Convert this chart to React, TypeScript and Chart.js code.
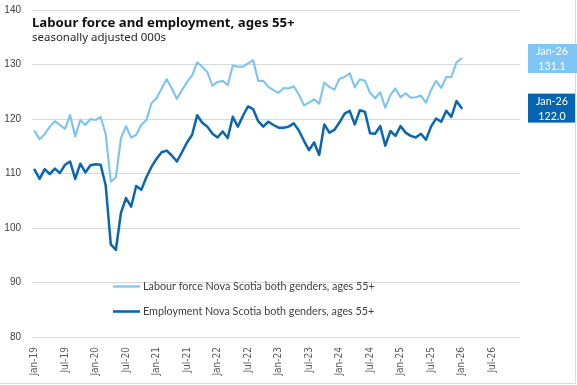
import React, { useEffect, useRef } from "react";
import { Chart, registerables } from "chart.js";

Chart.register(...registerables);

const MONTHS = ["Jan", "Feb", "Mar", "Apr", "May", "Jun", "Jul", "Aug", "Sep", "Oct", "Nov", "Dec"];
const YEARS = ["19", "20", "21", "22", "23", "24", "25", "26"];
const categories = YEARS.flatMap((y) => MONTHS.map((m) => `${m}-${y}`));

const TITLE = "Labour force and employment, ages 55+";
const SUBTITLE = "seasonally adjusted 000s";
const SERIES_NAMES = [
  "Labour force Nova Scotia both genders, ages 55+",
  "Employment Nova Scotia both genders, ages 55+",
];
const END_LABEL = "Jan-26";

const labourForce = [
  117.8, 116.3, 117.2, 118.6, 119.6, 118.9, 118.2, 120.7, 116.8, 119.8, 118.9, 120.0,
  119.8, 120.4, 117.2, 108.5, 109.3, 116.5, 118.7, 116.6, 117.1, 118.9, 119.8, 122.9,
  123.8, 125.6, 127.3, 125.6, 123.7, 125.3, 126.8, 128.0, 130.4, 129.6, 128.6, 126.1,
  126.8, 127.0, 126.2, 129.8, 129.6, 129.6, 130.2, 130.8, 127.0, 127.0, 125.9, 125.3,
  124.8, 125.7, 125.6, 126.0, 124.5, 122.5, 123.0, 123.6, 122.8, 126.7, 125.9, 125.4,
  127.4, 127.7, 128.4, 125.8, 127.3, 127.0, 124.8, 123.8, 124.9, 122.1, 124.4, 125.6,
  124.0, 124.7, 123.9, 124.0, 124.3, 123.0, 125.3, 127.0, 125.7, 127.7, 127.7, 130.4,
  131.1,
];

const employment = [
  110.7, 109.0, 110.8, 109.9, 110.9, 110.1, 111.6, 112.2, 109.0, 111.8, 110.2, 111.5,
  111.7, 111.6, 107.8, 97.0, 96.0, 102.8, 105.5, 103.9, 107.7, 107.0, 109.3, 111.2,
  112.7, 113.9, 114.2, 113.3, 112.2, 113.9, 115.7, 117.1, 120.7, 119.3, 118.6, 117.3,
  116.6, 117.7, 116.5, 120.4, 118.6, 120.6, 122.3, 121.8, 119.6, 118.6, 119.5, 118.9,
  118.4, 118.4, 118.6, 119.2, 117.9, 116.0, 114.3, 115.7, 113.4, 119.0, 117.5, 118.0,
  119.4, 121.0, 121.5, 119.0, 121.6, 121.3, 117.4, 117.3, 118.7, 115.1, 117.8, 116.9,
  118.7, 117.5, 116.9, 116.6, 117.3, 116.2, 118.6, 120.1, 119.5, 121.5, 120.4, 123.3,
  122.0,
];

const Y_MIN = 80;
const Y_MAX = 140;
const Y_STEP = 10;

const LIGHT = "#7DC3F1";
const DARK = "#0B66B0";
const LIGHT_BOX = "#7FC6F4";
const DARK_BOX = "#0565B0";

function fitText(ctx: CanvasRenderingContext2D, text: string, weight: string, size: number, family: string, width: number) {
  ctx.font = `${weight} ${size}px ${family}`;
  const w = ctx.measureText(text).width;
  const s = (size * width) / w;
  ctx.font = `${weight} ${s}px ${family}`;
}

const overlay = {
  id: "overlay",
  afterDraw(chart: any) {
    const ctx: CanvasRenderingContext2D = chart.ctx;
    const y = chart.scales.y;
    ctx.save();
    // border
    ctx.strokeStyle = "#d9d9d9";
    ctx.lineWidth = 1;
    ctx.beginPath();
    ctx.moveTo(575.5, 0);
    ctx.lineTo(575.5, 383.5);
    ctx.lineTo(0, 383.5);
    ctx.stroke();

    // title
    ctx.fillStyle = "#111111";
    ctx.textBaseline = "alphabetic";
    ctx.textAlign = "left";
    fitText(ctx, TITLE, "bold", 16, '"Noto Sans", sans-serif', 263);
    ctx.fillText(TITLE, 32, 27);
    ctx.fillStyle = "#262626";
    fitText(ctx, SUBTITLE, "normal", 12, '"Noto Sans", sans-serif', 134);
    ctx.fillText(SUBTITLE, 32, 40.5);

    // legend
    const legendY = [286.5, 311.5];
    const colors = [LIGHT, DARK];
    const widths = [2.2, 2.6];
    SERIES_NAMES.forEach((name, i) => {
      ctx.strokeStyle = colors[i];
      ctx.lineWidth = widths[i];
      ctx.beginPath();
      ctx.moveTo(113, legendY[i]);
      ctx.lineTo(140, legendY[i]);
      ctx.stroke();
      ctx.fillStyle = "#404040";
      ctx.textBaseline = "middle";
      ctx.textAlign = "left";
      fitText(ctx, SERIES_NAMES[0], "normal", 12, "Lato, sans-serif", 232);
      ctx.fillText(name, 143, legendY[i]);
    });

    // end labels
    const ends = [
      { v: labourForce[labourForce.length - 1], bg: LIGHT_BOX, w: 49 },
      { v: employment[employment.length - 1], bg: DARK_BOX, w: 47 },
    ];
    ends.forEach((e) => {
      const cy = y.getPixelForValue(e.v);
      ctx.fillStyle = e.bg;
      ctx.fillRect(528, cy - 14.5, e.w, 29);
      ctx.fillStyle = "#ffffff";
      ctx.textAlign = "center";
      ctx.textBaseline = "middle";
      fitText(ctx, END_LABEL, "normal", 12, "Lato, sans-serif", 32);
      ctx.fillText(END_LABEL, 552, cy - 6.5);
      ctx.fillText(e.v.toFixed(1), 552, cy + 8);
    });
    ctx.restore();
  },
};

export default function App() {
  const ref = useRef<HTMLCanvasElement | null>(null);
  useEffect(() => {
    document.body.style.margin = "0";
    const canvas = ref.current!;
    const chart = new Chart(canvas, {
      type: "line",
      data: {
        labels: categories,
        datasets: [
          {
            label: SERIES_NAMES[0],
            data: labourForce,
            borderColor: LIGHT,
            borderWidth: 2.1,
            pointRadius: 0,
            tension: 0,
          },
          {
            label: SERIES_NAMES[1],
            data: employment,
            borderColor: DARK,
            borderWidth: 2.5,
            pointRadius: 0,
            tension: 0,
          },
        ],
      },
      options: {
        responsive: false,
        animation: false,
        devicePixelRatio: 1,
        layout: { padding: { top: 10, right: 57, bottom: 0, left: 0 } },
        plugins: { legend: { display: false }, tooltip: { enabled: false } },
        elements: { line: { borderJoinStyle: "round", borderCapStyle: "round" } },
        scales: {
          x: {
            type: "category",
            offset: true,
            grid: { display: false, drawTicks: false },
            border: { display: false },
            ticks: {
              autoSkip: false,
              minRotation: 90,
              maxRotation: 90,
              padding: 10,
              color: "#595959",
              font: { family: '"Liberation Sans Narrow", "DejaVu Sans Condensed", "Liberation Sans", sans-serif', size: 10 },
              callback: (_v: any, i: number) => (i % 6 === 0 ? categories[i] : null),
            },
            afterFit: (s: any) => {
              s.height = 48;
              s.paddingLeft = 0;
              s.paddingRight = 0;
            },
          },
          y: {
            min: Y_MIN,
            max: Y_MAX,
            grid: { color: "#d9d9d9", drawTicks: false, lineWidth: 1 },
            border: { display: false },
            ticks: {
              stepSize: Y_STEP,
              padding: 11,
              color: "#404040",
              font: { family: '"Liberation Sans", Arial, sans-serif', size: 10 },
            },
            afterFit: (s: any) => {
              s.width = 32;
              s.paddingTop = 0;
              s.paddingBottom = 0;
            },
          },
        },
      },
      plugins: [overlay],
    } as any);
    return () => chart.destroy();
  }, []);
  return (
    <div style={{ position: "absolute", left: 0, top: 0, width: 577, height: 385, background: "#fff" }}>
      <canvas ref={ref} width={577} height={385} style={{ width: 577, height: 385, display: "block" }} />
    </div>
  );
}
